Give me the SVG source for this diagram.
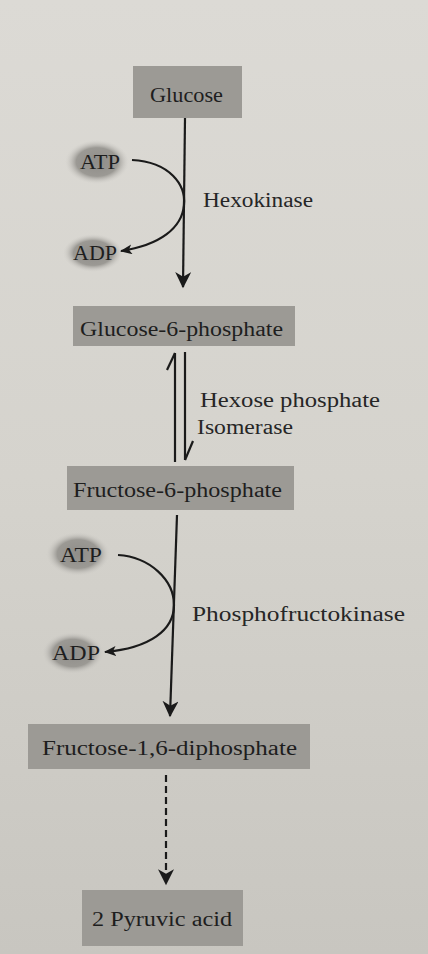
<svg xmlns="http://www.w3.org/2000/svg" width="428" height="954" viewBox="0 0 428 954">
<defs>
<linearGradient id="bg" x1="0" y1="0" x2="0" y2="1">
<stop offset="0" stop-color="#dcdad5"/>
<stop offset="0.5" stop-color="#d5d3cd"/>
<stop offset="1" stop-color="#c8c6c0"/>
</linearGradient>
<radialGradient id="halo">
<stop offset="0" stop-color="#8f8d89"/>
<stop offset="0.65" stop-color="#9b9994"/>
<stop offset="1" stop-color="#cfcdc8" stop-opacity="0"/>
</radialGradient>
<marker id="ah" viewBox="0 0 12 10" refX="11" refY="5" markerWidth="12" markerHeight="10" markerUnits="userSpaceOnUse" orient="auto">
<path d="M0,0 L12,5 L0,10 L3,5 Z" fill="#1a1a1a"/>
</marker>
<marker id="ahBig" viewBox="0 0 14 14" refX="13" refY="7" markerWidth="26" markerHeight="16" markerUnits="userSpaceOnUse" orient="auto">
<path d="M0,0 L14,7 L0,14 L4,7 Z" fill="#1a1a1a"/>
</marker>
</defs>
<style>
.box{fill:#9c9a95;}
.t{font-family:"Liberation Serif","DejaVu Serif",serif;font-size:20px;fill:#1e1e1e;}
.l{font-family:"Liberation Serif","DejaVu Serif",serif;font-size:20px;fill:#262626;}
.line{stroke:#1a1a1a;stroke-width:2.2;fill:none;}
</style>
<rect x="0" y="0" width="428" height="954" fill="url(#bg)"/>

<g id="glucose">
<rect class="box" x="133" y="66" width="109" height="52"/>
<text class="t" x="150" y="102" textLength="73" lengthAdjust="spacingAndGlyphs">Glucose</text>
</g>
<g id="atp1">
<ellipse cx="97" cy="162" rx="32" ry="22" fill="url(#halo)"/>
<text class="t" x="80" y="169" textLength="40" lengthAdjust="spacingAndGlyphs">ATP</text>
</g>
<g id="adp1">
<ellipse cx="93" cy="253" rx="30" ry="19" fill="url(#halo)"/>
<text class="t" x="73" y="260" textLength="44" lengthAdjust="spacingAndGlyphs">ADP</text>
</g>
<g id="hexokinase">
<text class="l" x="203" y="207" textLength="110" lengthAdjust="spacingAndGlyphs">Hexokinase</text>
</g>
<g id="g6p">
<rect class="box" x="73" y="306" width="222" height="40"/>
<text class="t" x="80" y="336" textLength="203" lengthAdjust="spacingAndGlyphs">Glucose-6-phosphate</text>
</g>
<g id="isomerase">
<text class="l" x="200" y="407" textLength="180" lengthAdjust="spacingAndGlyphs">Hexose phosphate</text>
<text class="l" x="197" y="434" textLength="96" lengthAdjust="spacingAndGlyphs">Isomerase</text>
</g>
<g id="f6p">
<rect class="box" x="67" y="466" width="227" height="44"/>
<text class="t" x="73" y="497" textLength="209" lengthAdjust="spacingAndGlyphs">Fructose-6-phosphate</text>
</g>
<g id="atp2">
<ellipse cx="78" cy="554" rx="32" ry="22" fill="url(#halo)"/>
<text class="t" x="60" y="562" textLength="42" lengthAdjust="spacingAndGlyphs">ATP</text>
</g>
<g id="adp2">
<ellipse cx="73" cy="653" rx="31" ry="21" fill="url(#halo)"/>
<text class="t" x="52" y="660" textLength="48" lengthAdjust="spacingAndGlyphs">ADP</text>
</g>
<g id="pfk">
<text class="l" x="192" y="621" textLength="213" lengthAdjust="spacingAndGlyphs">Phosphofructokinase</text>
</g>
<g id="f16dp">
<rect class="box" x="28" y="724" width="282" height="45"/>
<text class="t" x="42" y="755" textLength="255" lengthAdjust="spacingAndGlyphs">Fructose-1,6-diphosphate</text>
</g>
<g id="pyruvate">
<rect class="box" x="82" y="890" width="161" height="56"/>
<text class="t" x="92" y="926" textLength="140" lengthAdjust="spacingAndGlyphs">2 Pyruvic acid</text>
</g>

<g id="connectors">
<line class="line" x1="185" y1="118" x2="183" y2="287" marker-end="url(#ahBig)"/>
<path class="line" d="M132,160 C170,162 186,185 184,205 C182,228 160,245 121,251" marker-end="url(#ah)"/>
<line class="line" x1="175" y1="462" x2="175" y2="353"/>
<path class="line" d="M175,353 L167,370"/>
<line class="line" x1="185" y1="352" x2="185" y2="460"/>
<path class="line" d="M185,460 L193,441"/>
<line class="line" x1="177" y1="515" x2="170" y2="716" marker-end="url(#ahBig)"/>
<path class="line" d="M118,555 C150,557 174,580 174,605 C174,630 150,648 105,652" marker-end="url(#ah)"/>
<line class="line" x1="166" y1="775" x2="166" y2="884" stroke-dasharray="7,4" marker-end="url(#ahBig)"/>
</g>
</svg>
